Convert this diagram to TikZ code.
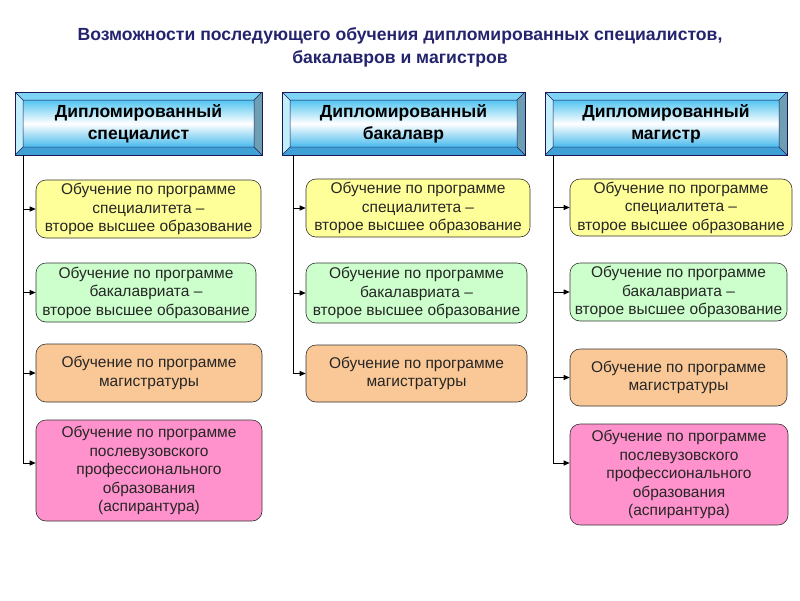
\documentclass[tikz,border=0pt]{standalone}
\usepackage{fontspec}
\setmainfont{Liberation Sans}
\usetikzlibrary{arrows.meta}
\definecolor{titleblue}{RGB}{35,35,110}
\definecolor{hdrline}{RGB}{25,25,90}
\definecolor{bevtop}{RGB}{125,212,245}
\definecolor{bevleft}{RGB}{195,238,252}
\definecolor{bevright}{RGB}{110,158,178}
\definecolor{bevbot}{RGB}{62,160,212}
\definecolor{facetop}{RGB}{82,196,240}
\definecolor{facebot}{RGB}{72,186,236}
\definecolor{optyellow}{RGB}{255,255,153}
\definecolor{optgreen}{RGB}{204,255,204}
\definecolor{optorange}{RGB}{250,200,150}
\definecolor{optpink}{RGB}{255,146,204}
\tikzset{
    hdr/.style={
        draw=hdrline, line width=0.8pt, inner sep=0pt, align=center,
        font=\bfseries\fontsize{17.5}{22}\selectfont,
        path picture={
            \coordinate (nw) at (path picture bounding box.north west);
            \coordinate (ne) at (path picture bounding box.north east);
            \coordinate (sw) at (path picture bounding box.south west);
            \coordinate (se) at (path picture bounding box.south east);
            \fill[bevtop]   (nw) -- (ne) -- ([shift={(-8pt,-8pt)}]ne) -- ([shift={(8pt,-8pt)}]nw) -- cycle;
            \fill[bevbot]   (sw) -- (se) -- ([shift={(-8pt,8pt)}]se) -- ([shift={(8pt,8pt)}]sw) -- cycle;
            \fill[bevleft]  (nw) -- (sw) -- ([shift={(8pt,8pt)}]sw) -- ([shift={(8pt,-8pt)}]nw) -- cycle;
            \fill[bevright] (ne) -- (se) -- ([shift={(-8pt,8pt)}]se) -- ([shift={(-8pt,-8pt)}]ne) -- cycle;
            \shade[top color=facetop, bottom color=facebot, middle color=white]
                ([shift={(8pt,-8pt)}]nw) rectangle ([shift={(-8pt,8pt)}]se);
            \draw[hdrline, line width=0.5pt]
                ([shift={(8pt,-8pt)}]nw) rectangle ([shift={(-8pt,8pt)}]se)
                (nw) -- ([shift={(8pt,-8pt)}]nw)
                (ne) -- ([shift={(-8pt,-8pt)}]ne)
                (sw) -- ([shift={(8pt,8pt)}]sw)
                (se) -- ([shift={(-8pt,8pt)}]se);
        }
    },
    opt/.style={
        draw=black!80, line width=0.6pt, rounded corners=10pt, inner sep=0pt,
        align=center, text=black!85, font=\fontsize{15.5}{18.5}\selectfont
    },
    conn/.style={draw=black, line width=0.9pt, -{Triangle[length=6pt,width=5pt]}}
}
\begin{document}
\begin{tikzpicture}[x=1pt, y=-1pt]
        \useasboundingbox (0,0) rectangle (800,600);
        \node[align=center, text=titleblue, font=\bfseries\fontsize{17.6}{23}\selectfont]
            (title) at (400,47.5) {Возможности последующего обучения дипломированных специалистов,\\бакалавров и магистров};

        \node[hdr, minimum width=247pt, minimum height=63pt] (h1) at (138.5,123.5) {Дипломированный\\специалист};
        \node[hdr, minimum width=243pt, minimum height=63pt] (h2) at (403.5,123.5) {Дипломированный\\бакалавр};
        \node[hdr, minimum width=242pt, minimum height=63pt] (h3) at (666,123.5) {Дипломированный\\магистр};

        \coordinate (t1) at (23,155);
        \coordinate (t2) at (293,155);
        \coordinate (t3) at (553,155);

        \node[opt, fill=optyellow, minimum width=225pt, minimum height=58pt]  (b11) at (148.5,209)
            {Обучение по программе\\специалитета –\\второе высшее образование};
        \node[opt, fill=optgreen,  minimum width=220pt, minimum height=59pt]  (b12) at (146,292.5)
            {Обучение по программе\\бакалавриата –\\второе высшее образование};
        \node[opt, fill=optorange, minimum width=226pt, minimum height=58pt]  (b13) at (149,373)
            {Обучение по программе\\магистратуры};
        \node[opt, fill=optpink,   minimum width=226pt, minimum height=101pt] (b14) at (149,470.5)
            {Обучение по программе\\послевузовского\\профессионального\\образования\\(аспирантура)};

        \node[opt, fill=optyellow, minimum width=224pt, minimum height=58pt]  (b21) at (418,208)
            {Обучение по программе\\специалитета –\\второе высшее образование};
        \node[opt, fill=optgreen,  minimum width=221pt, minimum height=60pt]  (b22) at (416.5,293)
            {Обучение по программе\\бакалавриата –\\второе высшее образование};
        \node[opt, fill=optorange, minimum width=221pt, minimum height=57pt]  (b23) at (416.5,373.5)
            {Обучение по программе\\магистратуры};

        \node[opt, fill=optyellow, minimum width=222pt, minimum height=57pt]  (b31) at (681,207.5)
            {Обучение по программе\\специалитета –\\второе высшее образование};
        \node[opt, fill=optgreen,  minimum width=217pt, minimum height=58pt]  (b32) at (678.5,292)
            {Обучение по программе\\бакалавриата –\\второе высшее образование};
        \node[opt, fill=optorange, minimum width=217pt, minimum height=57pt]  (b33) at (678.5,377.5)
            {Обучение по программе\\магистратуры};
        \node[opt, fill=optpink,   minimum width=218pt, minimum height=101pt] (b34) at (679,474.5)
            {Обучение по программе\\послевузовского\\профессионального\\образования\\(аспирантура)};

        \draw[conn] (t1) |- ([yshift=7.5pt]b14.west);
        \path   (t1 |- b11) edge[conn] (b11)
                (t1 |- b12) edge[conn] (b12)
                (t1 |- b13) edge[conn] (b13)
        ;
        \draw[conn] (t2) |- (b23);
        \path   (t2 |- b21) edge[conn] (b21)
                (t2 |- b22) edge[conn] (b22)
        ;
        \draw[conn] (t3) |- ([yshift=11.5pt]b34.west);
        \path   (t3 |- b31) edge[conn] (b31)
                (t3 |- b32) edge[conn] (b32)
                (t3 |- b33) edge[conn] (b33)
        ;
\end{tikzpicture}
\end{document}
